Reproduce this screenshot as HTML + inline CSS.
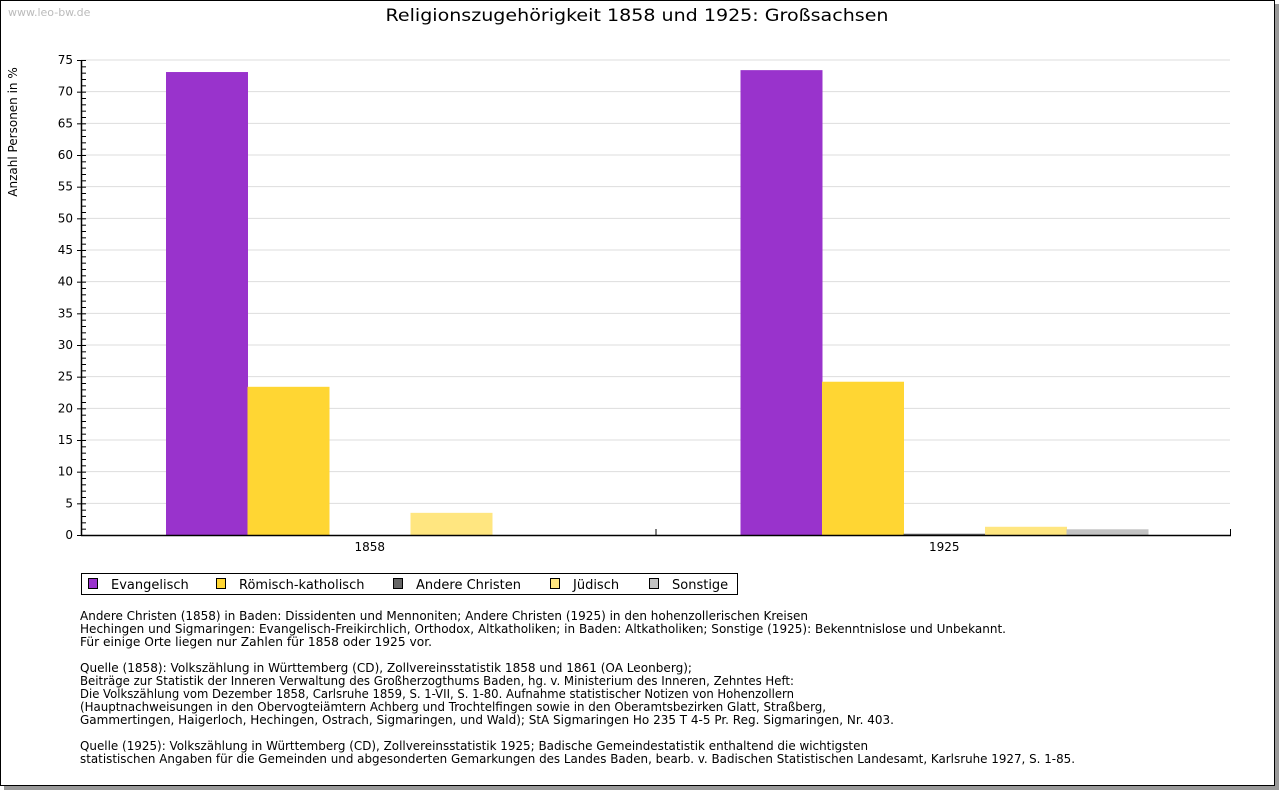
<!DOCTYPE html>
<html><head><meta charset="utf-8"><style>
html,body{margin:0;padding:0;background:#fff;}
svg{display:block;font-family:"DejaVu Sans","Liberation Sans",sans-serif;}
</style></head><body>
<svg id="chart" width="1280" height="791" viewBox="0 0 1280 791" xmlns="http://www.w3.org/2000/svg">
<rect x="4" y="4" width="1275" height="786" fill="#999"/>
<rect x="0.5" y="0.5" width="1274" height="785" fill="#fff" stroke="#000"/>
<text x="8" y="16" font-size="11" fill="#bbb">www.leo-bw.de</text>
<text x="637" y="21" font-size="17" text-anchor="middle" fill="#000" textLength="503" lengthAdjust="spacingAndGlyphs">Religionszugehörigkeit 1858 und 1925: Großsachsen</text>
<text transform="translate(17,132) rotate(-90)" font-size="12" text-anchor="middle">Anzahl Personen in %</text>
<g id="grid"></g>
<g id="bars"></g>
<g id="axes"></g>
<g id="legend"></g>
<g id="notes"></g>
</svg>
<script>
const categories = ["1858", "1925"];
const seriesNames = ["Evangelisch", "Römisch-katholisch", "Andere Christen", "Jüdisch", "Sonstige"];
const evangelisch = [73.1, 73.4];
const katholisch = [23.4, 24.2];
const andere = [0, 0.2];
const juedisch = [3.5, 1.3];
const sonstige = [0, 0.9];
const yTicks = [0, 5, 10, 15, 20, 25, 30, 35, 40, 45, 50, 55, 60, 65, 70, 75];
const colors = ["#9933cc", "#ffd633", "#666666", "#ffe680", "#c2c2c2"];

const NS = "http://www.w3.org/2000/svg";
const X0 = 81, X1 = 1230, Y0 = 535, Y1 = 60, YMAX = 75;
const y = v => Y0 - (v / YMAX) * (Y0 - Y1);
const catW = (X1 - X0) / categories.length;
const barW = 81.5;
function mk(tag, attrs, parent) {
  const e = document.createElementNS(NS, tag);
  for (const k in attrs) e.setAttribute(k, attrs[k]);
  parent.appendChild(e);
  return e;
}
const grid = document.getElementById('grid');
const axes = document.getElementById('axes');
const bars = document.getElementById('bars');
yTicks.forEach(t => {
  if (t > 0) {
    const gl = mk('line', {x1: X0, x2: X1, y1: y(t), y2: y(t), stroke: '#dddddd'}, grid);
    
    
  }
  const tl = mk('text', {x: 73, y: y(t) + 4, 'font-size': 12, 'text-anchor': 'end'}, axes);
  tl.textContent = String(t);
  
  
});
for (let v = 0; v <= YMAX; v++) {
  const major = v % 5 === 0;
  mk('line', {x1: major ? 77 : X0, x2: 86, y1: y(v) + 0.5, y2: y(v) + 0.5, stroke: '#000'}, axes);
}
mk('line', {x1: X0 + 0.5, x2: X0 + 0.5, y1: Y1, y2: Y0 + 1, stroke: '#000', 'stroke-width': 1.5}, axes);
mk('line', {x1: X0, x2: X1 + 1, y1: Y0 + 0.5, y2: Y0 + 0.5, stroke: '#000', 'stroke-width': 1.5}, axes);
mk('line', {x1: X1 + 0.5, x2: X1 + 0.5, y1: Y0 - 6, y2: Y0, stroke: '#000'}, axes);
mk('line', {x1: X0 + catW + 0.5, x2: X0 + catW + 0.5, y1: Y0 - 6, y2: Y0, stroke: '#000'}, axes);

const series = [evangelisch, katholisch, andere, juedisch, sonstige];
categories.forEach((c, i) => {
  const cx = X0 + catW * (i + 0.5) + 1.5;
  const start = cx - barW * series.length / 2;
  series.forEach((s, j) => {
    const v = s[i];
    const r = mk('rect', {x: start + j * barW, y: y(v), width: barW + 0.5, height: Math.max(0, Y0 - y(v)), fill: colors[j]}, bars);
    
    
  });
  const xl = mk('text', {x: cx, y: 551, 'font-size': 12, 'text-anchor': 'middle'}, axes);
  xl.textContent = c;
  
  
});

const legend = document.getElementById('legend');
mk('rect', {x: 81.5, y: 573.5, width: 656, height: 21, fill: '#fff', stroke: '#000'}, legend);
const lx = [88, 216, 393, 550, 649];
seriesNames.forEach((n, j) => {
  mk('rect', {x: lx[j] + 0.5, y: 578.5, width: 9, height: 10, fill: colors[j], stroke: '#000'}, legend);
  const t = mk('text', {x: lx[j] + 23, y: 589, 'font-size': 13}, legend);
  t.textContent = n;
  
  
});

const notes = [
  ["Andere Christen (1858) in Baden: Dissidenten und Mennoniten; Andere Christen (1925) in den hohenzollerischen Kreisen", 620, 808],
  ["Hechingen und Sigmaringen: Evangelisch-Freikirchlich, Orthodox, Altkatholiken; in Baden: Altkatholiken; Sonstige (1925): Bekenntnislose und Unbekannt.", 633, 1006],
  ["Für einige Orte liegen nur Zahlen für 1858 oder 1925 vor.", 646, 432],
  ["Quelle (1858): Volkszählung in Württemberg (CD), Zollvereinsstatistik 1858 und 1861 (OA Leonberg);", 672, 692],
  ["Beiträge zur Statistik der Inneren Verwaltung des Großherzogthums Baden, hg. v. Ministerium des Inneren, Zehntes Heft:", 685, 794],
  ["Die Volkszählung vom Dezember 1858, Carlsruhe 1859, S. 1-VII, S. 1-80. Aufnahme statistischer Notizen von Hohenzollern", 698, 794],
  ["(Hauptnachweisungen in den Obervogteiämtern Achberg und Trochtelfingen sowie in den Oberamtsbezirken Glatt, Straßberg,", 711, 826],
  ["Gammertingen, Haigerloch, Hechingen, Ostrach, Sigmaringen, und Wald); StA Sigmaringen Ho 235 T 4-5 Pr. Reg. Sigmaringen, Nr. 403.", 724, 894],
  ["Quelle (1925): Volkszählung in Württemberg (CD), Zollvereinsstatistik 1925; Badische Gemeindestatistik enthaltend die wichtigsten", 750, 868],
  ["statistischen Angaben für die Gemeinden und abgesonderten Gemarkungen des Landes Baden, bearb. v. Badischen Statistischen Landesamt, Karlsruhe 1927, S. 1-85.", 763, 1075]
];
const ng = document.getElementById('notes');
notes.forEach(n => {
  const t = mk('text', {x: 80, y: n[1], 'font-size': 12, textLength: n[2] - 80, lengthAdjust: 'spacingAndGlyphs'}, ng);
  t.textContent = n[0];
  
  
});
</script>
</body></html>
